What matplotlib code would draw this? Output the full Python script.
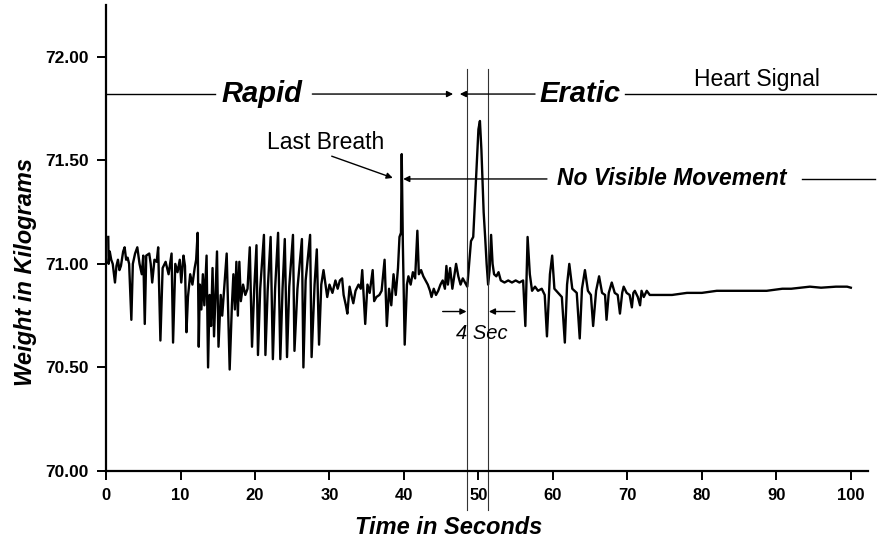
import numpy as np
import matplotlib
matplotlib.use("Agg")
import matplotlib.pyplot as plt

plt.rcParams['font.family'] = ['Liberation Sans', 'DejaVu Sans']

# weight trace (seconds, kilograms)
t_sec = [
    0.3, 0.35, 0.5, 0.7, 0.9, 1.2, 1.4, 1.6, 1.8, 2.0,
    2.3, 2.5, 2.7, 2.9, 3.1, 3.4, 3.6, 3.9, 4.2, 4.5,
    4.8, 5.0, 5.2, 5.4, 5.8, 6.0, 6.2, 6.5, 6.8, 7.0,
    7.3, 7.6, 8.0, 8.4, 8.8, 9.0, 9.3, 9.6, 9.9, 10.1,
    10.4, 10.6, 10.8, 11.0, 11.3, 11.6, 11.9, 12.1, 12.3, 12.45,
    12.6, 12.8, 13.0, 13.2, 13.5, 13.7, 13.9, 14.1, 14.3, 14.5,
    14.9, 15.1, 15.4, 15.6, 15.9, 16.2, 16.6, 16.9, 17.1, 17.3,
    17.5, 17.7, 17.9, 18.1, 18.4, 18.7, 19.0, 19.3, 19.6, 19.9,
    20.2, 20.4, 20.7, 21.2, 21.4, 21.7, 22.1, 22.4, 22.7, 23.1,
    23.4, 23.7, 24.0, 24.3, 24.6, 25.1, 25.3, 25.7, 26.3, 26.5,
    26.8, 27.4, 27.6, 28.0, 28.3, 28.6, 28.9, 29.2, 29.7, 30.0,
    30.4, 30.8, 31.1, 31.4, 31.7, 31.9, 32.2, 32.4, 32.7, 33.0,
    33.2, 33.5, 33.9, 34.2, 34.4, 34.8, 35.1, 35.4, 35.8, 36.0,
    36.3, 36.7, 37.0, 37.4, 37.7, 38.0, 38.3, 38.6, 38.9, 39.2,
    39.4, 39.6, 39.7, 39.85, 40.1, 40.4, 40.6, 40.9, 41.2, 41.5,
    41.8, 42.0, 42.3, 42.6, 42.9, 43.2, 43.5, 43.7, 44.0, 44.3,
    44.6, 44.9, 45.2, 45.5, 45.7, 45.9, 46.2, 46.5, 46.8, 47.0,
    47.3, 47.6, 47.9, 48.2, 48.5, 48.7, 49.0, 49.3, 49.6, 50.0,
    50.2, 50.4, 50.7, 50.9, 51.1, 51.3, 51.5, 51.7, 51.9, 52.1,
    52.4, 52.7, 53.0, 53.5, 54.0, 54.5, 55.0, 55.5, 56.0, 56.3,
    56.6, 56.9, 57.2, 57.6, 58.0, 58.5, 58.9, 59.2, 59.6, 59.9,
    60.2, 60.7, 61.2, 61.6, 61.9, 62.2, 62.6, 63.2, 63.6, 63.9,
    64.3, 64.7, 65.1, 65.4, 65.8, 66.2, 66.6, 67.0, 67.2, 67.5,
    67.9, 68.3, 68.7, 69.0, 69.3, 69.5, 69.9, 70.3, 70.6, 70.8,
    71.0, 71.4, 71.7, 71.9, 72.2, 72.6, 73.0, 73.5, 74.4, 76.0,
    78.0, 80.0, 82.0, 84.0, 86.0, 88.7, 90.8, 92.0, 94.5, 96.0,
    98.0, 99.5, 100.0,
]
weight_kg = [
    71.13, 71.00, 71.06, 71.02, 71.00, 70.91, 70.99, 71.02, 70.97, 70.99,
    71.06, 71.08, 71.02, 71.03, 71.00, 70.73, 71.00, 71.05, 71.08, 71.00,
    70.95, 71.04, 70.71, 71.04, 71.05, 71.00, 70.91, 71.02, 71.01, 71.08,
    70.63, 70.98, 71.01, 70.95, 71.05, 70.62, 71.00, 70.96, 71.02, 70.91,
    71.04, 70.99, 70.67, 70.84, 70.95, 70.90, 70.98, 71.02, 71.15, 70.60,
    70.90, 70.78, 70.95, 70.80, 71.04, 70.50, 70.85, 70.70, 70.98, 70.65,
    71.06, 70.60, 70.85, 70.75, 70.90, 71.05, 70.49, 70.80, 70.95, 70.78,
    71.01, 70.75, 71.01, 70.82, 70.90, 70.85, 70.88, 71.08, 70.60, 70.88,
    71.09, 70.56, 70.88, 71.14, 70.56, 70.87, 71.13, 70.54, 70.88, 71.15,
    70.54, 70.88, 71.12, 70.55, 70.89, 71.14, 70.58, 70.88, 71.12, 70.50,
    70.92, 71.14, 70.55, 70.90, 71.07, 70.61, 70.90, 70.97, 70.84, 70.90,
    70.86, 70.92, 70.88, 70.92, 70.93, 70.85, 70.80, 70.76, 70.89, 70.84,
    70.81, 70.87, 70.90, 70.88, 70.97, 70.71, 70.90, 70.86, 70.97, 70.82,
    70.84, 70.85, 70.87, 71.02, 70.70, 70.88, 70.80, 70.95, 70.85, 70.98,
    71.13, 71.15, 71.53, 71.10, 70.61, 70.90, 70.94, 70.90, 70.96, 70.93,
    71.16, 70.95, 70.97, 70.94, 70.92, 70.90, 70.87, 70.84, 70.88, 70.85,
    70.87, 70.90, 70.92, 70.88, 70.99, 70.90, 70.98, 70.88, 70.95, 71.00,
    70.94, 70.90, 70.93, 70.91, 70.89, 70.98, 71.11, 71.13, 71.35, 71.65,
    71.69, 71.55, 71.25, 71.13, 71.00, 70.90, 70.97, 71.14, 71.00, 70.95,
    70.94, 70.96, 70.92, 70.91, 70.92, 70.91, 70.92, 70.91, 70.92, 70.70,
    71.13, 70.95, 70.87, 70.89, 70.87, 70.88, 70.85, 70.65, 70.95, 71.04,
    70.88, 70.86, 70.84, 70.62, 70.90, 71.00, 70.88, 70.86, 70.64, 70.88,
    70.97, 70.87, 70.85, 70.70, 70.87, 70.94, 70.86, 70.85, 70.73, 70.86,
    70.91, 70.86, 70.85, 70.76, 70.86, 70.89, 70.86, 70.85, 70.79, 70.86,
    70.87, 70.84, 70.80, 70.87, 70.84, 70.87, 70.85, 70.85, 70.85, 70.85,
    70.86, 70.86, 70.87, 70.87, 70.87, 70.87, 70.88, 70.88, 70.89, 70.885,
    70.89, 70.89, 70.885,
]

x_ticks = [0, 10, 20, 30, 40, 50, 60, 70, 80, 90, 100]
y_ticks = [70.0, 70.5, 71.0, 71.5, 72.0]

fig = plt.figure(figsize=(8.77, 5.42), dpi=100)
ax = fig.add_axes([0.1209, 0.131, 0.8688, 0.8598])

ax.plot(t_sec, weight_kg, color='black', lw=1.7)

ax.set_xlim(0, 102.3)
ax.set_ylim(70.0, 72.25)
ax.set_xticks(x_ticks)
ax.set_yticks(y_ticks)
ax.set_yticklabels([f"{v:.2f}" for v in y_ticks])
for s in ['top', 'right']:
    ax.spines[s].set_visible(False)
for s in ['left', 'bottom']:
    ax.spines[s].set_linewidth(1.6)
ax.tick_params(direction='out', length=6.5, width=1.4)
ax.tick_params(axis='y', labelsize=12.5, pad=6)
ax.tick_params(axis='x', labelsize=12, pad=6)
for lab in ax.get_xticklabels() + ax.get_yticklabels():
    lab.set_fontweight('bold')

ax.set_xlabel("Time in Seconds", fontsize=17, fontweight='bold', style='italic')
ax.set_ylabel("Weight in Kilograms", fontsize=17, fontweight='bold', style='italic')
ax.xaxis.set_label_coords(0.449, -0.097)
ax.yaxis.set_label_coords(-0.09, 0.427)

# the 4 second window
for xv in [48.5, 51.3]:
    ax.plot([xv, xv], [69.81, 71.94], color='#333333', lw=0.8, clip_on=False)

arrow = dict(arrowstyle='-|>', color='black', lw=1.0, mutation_scale=9, shrinkA=0, shrinkB=0)
line_kw = dict(color='black', lw=1.0, clip_on=False)

# Rapid / Eratic row
y_row = 71.82
ax.plot([0, 14.6], [y_row, y_row], **line_kw)
ax.text(20.9, y_row, "Rapid", fontsize=21, fontweight='bold', style='italic', ha='center', va='center')
ax.annotate("", xy=(46.6, y_row), xytext=(27.7, y_row), arrowprops=arrow)
ax.annotate("", xy=(47.5, y_row), xytext=(57.6, y_row), arrowprops=arrow)
ax.text(63.6, y_row, "Eratic", fontsize=21, fontweight='bold', style='italic', ha='center', va='center')
ax.plot([69.7, 103.5], [y_row, y_row], **line_kw)
ax.text(87.4, 71.89, "Heart Signal", fontsize=16.5, ha='center', va='center')

# Last breath / no visible movement
ax.text(29.5, 71.585, "Last Breath", fontsize=16.5, ha='center', va='center')
ax.annotate("", xy=(38.5, 71.415), xytext=(30.3, 71.52), arrowprops=arrow)
y_nvm = 71.41
ax.annotate("", xy=(39.9, y_nvm), xytext=(59.2, y_nvm), arrowprops=arrow)
ax.text(76.0, y_nvm, "No Visible Movement", fontsize=16.5, fontweight='bold', style='italic',
        ha='center', va='center')
ax.plot([93.4, 103.2], [y_nvm, y_nvm], **line_kw)

# 4 Sec marker
ax.annotate("", xy=(48.4, 70.77), xytext=(45.2, 70.77), arrowprops=arrow)
ax.annotate("", xy=(51.4, 70.77), xytext=(54.9, 70.77), arrowprops=arrow)
ax.text(50.5, 70.665, "4 Sec", fontsize=14.5, style='italic', ha='center', va='center')

fig.savefig("out.png", dpi=100)
